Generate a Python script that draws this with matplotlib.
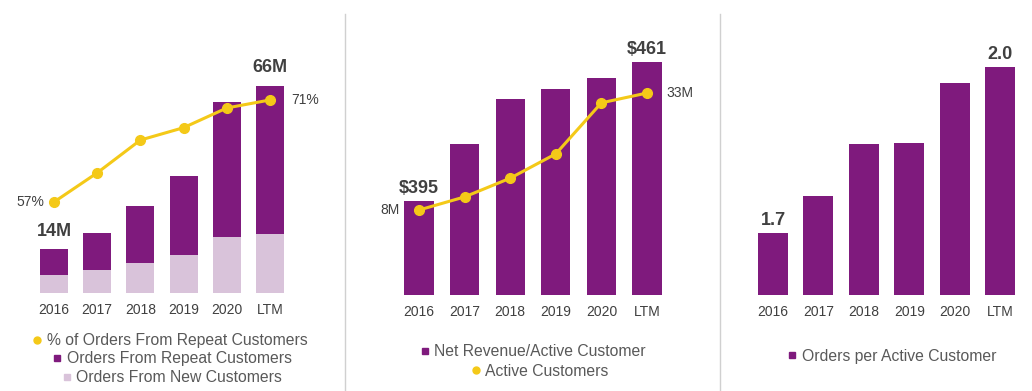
import matplotlib.pyplot as plt
from matplotlib.lines import Line2D

plt.rcParams['font.family'] = ['Liberation Sans', 'DejaVu Sans']

years = ["2016", "2017", "2018", "2019", "2020", "LTM"]

# panel 1 : orders (M) and % from repeat customers
orders_new = [5.8, 7.3, 9.6, 12.1, 17.8, 18.9]
orders_repeat = [8.2, 11.8, 18.1, 25.2, 43.0, 47.1]
pct_repeat = [57, 61.0, 65.5, 67.2, 69.9, 71]

# panel 2 : net revenue / active customer ($) and active customers (M)
rev_per_cust = [395, 422, 443.5, 448.2, 453.4, 461]
active_cust = [8, 10.8, 14.8, 20.0, 30.9, 33]

# panel 3 : orders per active customer
orders_per_cust = [1.7, 1.767, 1.861, 1.863, 1.971, 2.0]

purple = "#7F1A7D"
light = "#D9C3DA"
yellow = "#F4C918"
dark = "#404040"
grey = "#595959"

W, H = 1032, 391
fig = plt.figure(figsize=(W / 100, H / 100), dpi=100)


def box(left, top, width, bottom):
    return [left / W, (H - bottom) / H, width / W, (bottom - top) / H]


def style(ax):
    for s in ax.spines.values():
        s.set_visible(False)
    ax.set_yticks([])
    ax.tick_params(axis="x", length=0, pad=7, labelsize=10, labelcolor=dark)


x = range(len(years))

# ---- panel 1
ax1 = fig.add_axes(box(32.4, 20, 259.2, 293))
ax1.bar(x, orders_new, width=0.65, color=light)
ax1.bar(x, orders_repeat, width=0.65, bottom=orders_new, color=purple)
ax1.set_xlim(-0.5, 5.5)
ax1.set_ylim(0, 273 / 3.14)
ax1.set_xticks(list(x))
ax1.set_xticklabels(years)
style(ax1)
tot = [a + b for a, b in zip(orders_new, orders_repeat)]
ax1.text(0, tot[0] + 3, "14M", ha="center", va="bottom", fontsize=13, fontweight="bold", color=dark)
ax1.text(5, tot[5] + 3, "66M", ha="center", va="bottom", fontsize=13, fontweight="bold", color=dark)
ax1b = ax1.twinx()
ax1b.plot(x, pct_repeat, color=yellow, lw=2.2, marker="o", ms=7)
ax1b.set_ylim(44.52, 44.52 + 273 / 7.29)
ax1b.set_yticks([])
for s in ax1b.spines.values():
    s.set_visible(False)
ax1b.text(-0.23, pct_repeat[0], "57%", ha="right", va="center", fontsize=10, color=dark)
ax1b.text(5.5, pct_repeat[5], "71%", ha="left", va="center", fontsize=10, color=dark)

# ---- panel 2
ax2 = fig.add_axes(box(396.2, 20, 273.6, 295))
ax2.bar(x, rev_per_cust, width=0.64, color=purple)
ax2.set_xlim(-0.5, 5.5)
ax2.set_ylim(350.4, 350.4 + 275 / 2.106)
ax2.set_xticks(list(x))
ax2.set_xticklabels(years)
style(ax2)
ax2.text(0, rev_per_cust[0] + 2, "$395", ha="center", va="bottom", fontsize=13, fontweight="bold", color=dark)
ax2.text(5, rev_per_cust[5] + 2, "$461", ha="center", va="bottom", fontsize=13, fontweight="bold", color=dark)
ax2b = ax2.twinx()
ax2b.plot(x, active_cust, color=yellow, lw=2.2, marker="o", ms=7)
ax2b.set_ylim(-10.16, -10.16 + 275 / 4.68)
ax2b.set_yticks([])
for s in ax2b.spines.values():
    s.set_visible(False)
ax2b.text(-0.42, active_cust[0], "8M", ha="right", va="center", fontsize=10, color=dark)
ax2b.text(5.42, active_cust[5], "33M", ha="left", va="center", fontsize=10, color=dark)

# ---- panel 3
ax3 = fig.add_axes(box(750.3, 20, 272.4, 295))
ax3.bar(x, orders_per_cust, width=0.66, color=purple)
ax3.set_xlim(-0.5, 5.5)
ax3.set_ylim(1.588, 1.588 + 275 / 553)
ax3.set_xticks(list(x))
ax3.set_xticklabels(years)
style(ax3)
ax3.text(0, orders_per_cust[0] + 0.008, "1.7", ha="center", va="bottom", fontsize=13, fontweight="bold", color=dark)
ax3.text(5, orders_per_cust[5] + 0.008, "2.0", ha="center", va="bottom", fontsize=13, fontweight="bold", color=dark)

# separators
for xs in (345, 720):
    fig.add_artist(Line2D([xs / W, xs / W], [0, (H - 14) / H], color="#D0D0D0", lw=1))

# legends, one line each so they stay centred
def legend_line(cx, cy, label, marker, color):
    h = Line2D([], [], ls="none", marker=marker, color=color, ms=5)
    leg = fig.legend([h], [label], loc="center", bbox_to_anchor=(cx / W, (H - cy) / H),
                     frameon=False, fontsize=11.3, handlelength=0.6, handletextpad=0.3,
                     labelcolor=grey, borderpad=0)
    return leg

legend_line(170, 341, "% of Orders From Repeat Customers", "o", yellow)
legend_line(172, 359, "Orders From Repeat Customers", "s", purple)
legend_line(172, 378, "Orders From New Customers", "s", light)
legend_line(533, 352, "Net Revenue/Active Customer", "s", purple)
legend_line(540, 371, "Active Customers", "o", yellow)
legend_line(892, 356, "Orders per Active Customer", "s", purple)

fig.savefig("out.png", dpi=100)
